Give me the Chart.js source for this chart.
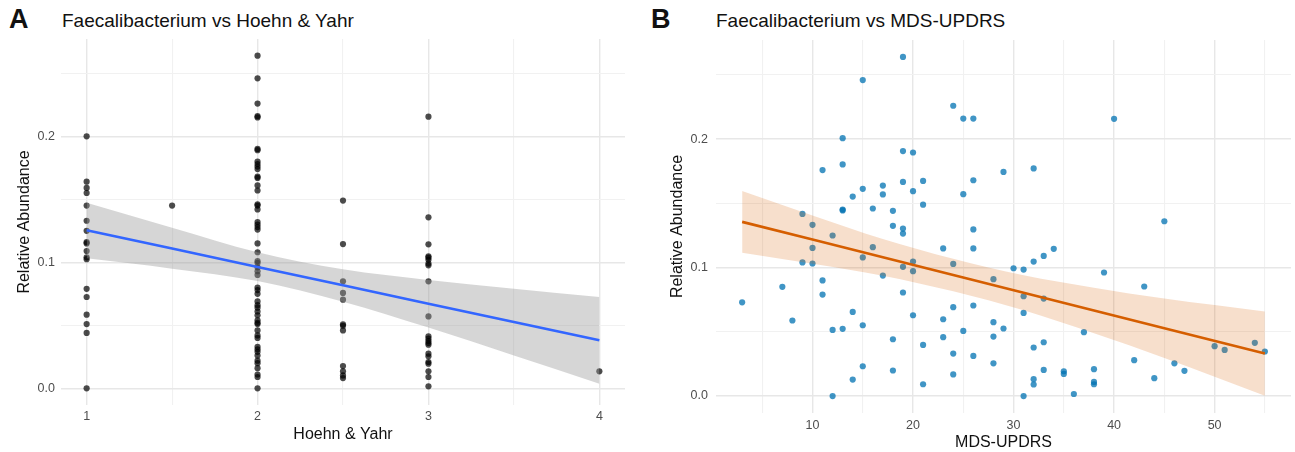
<!DOCTYPE html>
<html>
<head>
<meta charset="utf-8">
<title>Faecalibacterium</title>
<script src="https://cdn.jsdelivr.net/npm/chart.js@4.4.1/dist/chart.umd.min.js"></script>
<style>
body { margin: 0; background: #fff; width: 1295px; height: 452px; overflow: hidden; position: relative; font-family: 'Liberation Sans', Arial, sans-serif; }
canvas { position: absolute; top: 0; }
#chartA { left: 0; }
#chartB { left: 640px; }
.tag { position: absolute; top: 6px; font-weight: bold; font-size: 27px; line-height: 27px; color: #111; }
.title { position: absolute; top: 11px; font-size: 19px; line-height: 19px; color: #111; white-space: nowrap; }
</style>
</head>
<body>
<div class="tag" style="left:9px">A</div>
<div class="title" style="left:62px">Faecalibacterium vs Hoehn &amp; Yahr</div>
<div class="tag" style="left:651px">B</div>
<div class="title" style="left:716px">Faecalibacterium vs MDS-UPDRS</div>
<canvas id="chartA" width="640" height="452"></canvas>
<canvas id="chartB" width="655" height="452"></canvas>
<script>
// Panel A: relative abundance per Hoehn & Yahr stage
var stage1 = [0.200, 0.164, 0.159, 0.155, 0.145, 0.133, 0.125, 0.116, 0.115, 0.109, 0.104, 0.1025, 0.079, 0.0725, 0.0585, 0.051, 0.044, 0.0];
var stage15 = [0.145];
var stage2 = [0.264, 0.246, 0.226, 0.216, 0.215, 0.190, 0.189, 0.180, 0.178, 0.176, 0.174, 0.168, 0.167, 0.161, 0.157,
              0.146, 0.145, 0.142, 0.132, 0.130, 0.128, 0.126, 0.115, 0.108, 0.101, 0.0995, 0.096, 0.093, 0.090,
              0.080, 0.078, 0.075, 0.069, 0.066, 0.064, 0.061, 0.058, 0.054, 0.052, 0.051, 0.046, 0.042, 0.040,
              0.033, 0.031, 0.029, 0.026, 0.022, 0.020, 0.016, 0.011, 0.009, 0.0];
var stage25 = [0.149, 0.1145, 0.085, 0.0757, 0.0704, 0.0508, 0.0497, 0.046, 0.0177, 0.0135, 0.0103, 0.0082];
var stage3 = [0.2156, 0.1357, 0.1143, 0.1048, 0.1037, 0.102, 0.099, 0.0976, 0.0849, 0.0571, 0.0413, 0.0394,
              0.0376, 0.036, 0.0347, 0.0275, 0.0254, 0.0209, 0.0196, 0.0135, 0.009, 0.0016];
var stage4 = [0.0135];
var hyStages = [1, 1.5, 2, 2.5, 3, 4];
var hyGroups = [stage1, stage15, stage2, stage25, stage3, stage4];

// fitted line and confidence band
var hyFitX = [1, 1.5, 2, 2.5, 3, 3.5, 4];
var hyFit = [0.1254, 0.1109, 0.0963, 0.0818, 0.0672, 0.0527, 0.0381];
var hyUpper = [0.1473, 0.1275, 0.1080, 0.0945, 0.0860, 0.0790, 0.0725];
var hyLower = [0.1032, 0.0950, 0.0852, 0.0688, 0.0482, 0.0260, 0.0037];

var hyGridX = [1, 1.5, 2, 2.5, 3, 3.5, 4];
var hyTicksX = [1, 2, 3, 4];

// Panel B: MDS-UPDRS score vs relative abundance
var mdsScore = [3, 7, 8, 9, 9, 10, 10, 10, 11, 11, 11, 12, 12, 12,
                13, 13, 13, 13, 13, 14, 14, 14, 15, 15, 15, 15, 15, 16, 16, 17, 17, 17,
                18, 18, 18, 18, 19, 19, 19, 19, 19, 19, 19, 20, 20, 20, 20, 20,
                21, 21, 21, 21, 23, 23, 23, 24, 24, 24, 24, 24, 25, 25, 25,
                26, 26, 26, 26, 26, 26, 28, 28, 28, 28, 29, 29, 30, 31, 31, 31, 31,
                32, 32, 32, 32, 32, 33, 33, 33, 33, 34, 35, 35, 36, 37, 38, 38, 38,
                39, 40, 42, 43, 44, 45, 46, 47, 50, 51, 54, 55];
var mdsAbund = [0.073, 0.085, 0.0588, 0.1418, 0.104, 0.1333, 0.1153, 0.1032, 0.1759, 0.090, 0.079, 0.125, 0.0515, 0.0,
                0.2008, 0.1803, 0.1452, 0.1445, 0.0523, 0.1553, 0.0655, 0.0128, 0.246, 0.1613, 0.1079, 0.0551, 0.0232, 0.146, 0.1159, 0.1639, 0.157, 0.0938,
                0.1442, 0.1325, 0.0442, 0.0199, 0.264, 0.1907, 0.1667, 0.1304, 0.1265, 0.1006, 0.0806, 0.1896, 0.1595, 0.1047, 0.0972, 0.0629,
                0.1675, 0.149, 0.0398, 0.0092, 0.1149, 0.0598, 0.0458, 0.226, 0.1029, 0.0692, 0.0331, 0.0168, 0.216, 0.1572, 0.0507,
                0.216, 0.168, 0.1297, 0.1149, 0.0705, 0.0312, 0.091, 0.0575, 0.0463, 0.0255, 0.1745, 0.0526, 0.0995, 0.0985, 0.0777, 0.0647, 0.0,
                0.1772, 0.1047, 0.0378, 0.0131, 0.009, 0.1091, 0.0759, 0.0419, 0.0203, 0.1146, 0.0193, 0.0172, 0.0016, 0.0497, 0.0209, 0.011, 0.0092,
                0.0962, 0.2158, 0.0279, 0.0853, 0.0139, 0.1361, 0.0255, 0.0196, 0.0388, 0.0359, 0.0414, 0.0347];

// fitted line and confidence band
var mdsFitX = [3, 10, 17, 24, 31, 38, 45, 55];
var mdsFit = [0.1356, 0.1218, 0.1080, 0.0942, 0.0804, 0.0666, 0.0528, 0.0331];
var mdsUpper = [0.1597, 0.1406, 0.1223, 0.1069, 0.0941, 0.0844, 0.0759, 0.0659];
var mdsLower = [0.1115, 0.1030, 0.0937, 0.0815, 0.0667, 0.0488, 0.0297, 0.0003];

var mdsGridX = [5, 10, 15, 20, 25, 30, 35, 40, 45, 50, 55];
var mdsTicksX = [10, 20, 30, 40, 50];

var abundGrid = [0, 0.05, 0.1, 0.15, 0.2, 0.25];
var abundTicks = [0, 0.1, 0.2];

var FONT = "'Liberation Sans', Arial, sans-serif";

function toPoints(xs, ys) {
    return xs.map(function (x, i) { return {x: x, y: ys[i]}; });
}

function gridFrom(list) {
    return function (scale) {
        scale.ticks = list.map(function (v) { return {value: v}; });
    };
}

function gridStyle(majors) {
    return {
        color: function (c) { return majors.indexOf(c.tick.value) >= 0 ? '#e7e7e7' : '#f1f1f1'; },
        lineWidth: function (c) { return majors.indexOf(c.tick.value) >= 0 ? 1.4 : 1.1; },
        drawTicks: false
    };
}

function makePanel(id, p) {
    var ctx = document.getElementById(id).getContext('2d');
    return new Chart(ctx, {
        type: 'scatter',
        data: {
            datasets: [{
                type: 'line',
                data: toPoints(p.fitX, p.fit),
                borderColor: p.lineColor,
                borderWidth: 2.6,
                pointRadius: 0,
                fill: false,
                order: 0
            }, {
                type: 'line',
                data: toPoints(p.fitX, p.upper),
                borderWidth: 0,
                pointRadius: 0,
                cubicInterpolationMode: 'monotone',
                backgroundColor: p.bandColor,
                fill: '+1',
                order: 1
            }, {
                type: 'line',
                data: toPoints(p.fitX, p.lower),
                borderWidth: 0,
                pointRadius: 0,
                cubicInterpolationMode: 'monotone',
                fill: false,
                order: 2
            }, {
                data: p.points,
                pointRadius: 3.1,
                pointBorderWidth: 0,
                pointBackgroundColor: p.pointColor,
                order: 3
            }]
        },
        options: {
            responsive: false,
            animation: false,
            devicePixelRatio: 1,
            layout: { padding: p.padding },
            plugins: { legend: { display: false }, tooltip: { enabled: false } },
            scales: {
                x: {
                    type: 'linear',
                    min: p.xMin,
                    max: p.xMax,
                    bounds: 'data',
                    afterBuildTicks: gridFrom(p.gridX),
                    afterFit: function (s) { s.height = p.xAxisHeight; },
                    border: { display: false },
                    grid: gridStyle(p.ticksX),
                    ticks: {
                        autoSkip: false,
                        padding: p.xTickPad,
                        color: '#4d4d4d',
                        font: { family: FONT, size: 12.5 },
                        callback: function (v) { return p.ticksX.indexOf(v) >= 0 ? String(v) : ''; }
                    },
                    title: {
                        display: true,
                        text: p.xTitle,
                        color: '#111',
                        font: { family: FONT, size: 16 },
                        padding: { top: 0, bottom: p.xTitlePad }
                    }
                },
                y: {
                    type: 'linear',
                    min: -0.0132,
                    max: 0.2772,
                    bounds: 'data',
                    afterBuildTicks: gridFrom(abundGrid),
                    afterFit: function (s) { s.width = p.yAxisWidth; },
                    border: { display: false },
                    grid: gridStyle(abundTicks),
                    ticks: {
                        autoSkip: false,
                        padding: p.yTickPad,
                        color: '#4d4d4d',
                        font: { family: FONT, size: 12.5 },
                        callback: function (v) { return abundTicks.indexOf(v) >= 0 ? v.toFixed(1) : ''; }
                    },
                    title: {
                        display: true,
                        text: 'Relative Abundance',
                        color: '#111',
                        font: { family: FONT, size: 16 },
                        padding: { top: p.yTitlePad, bottom: 0 }
                    }
                }
            }
        }
    });
}

var hyPoints = [];
hyGroups.forEach(function (g, i) {
    g.forEach(function (v) { hyPoints.push({x: hyStages[i], y: v}); });
});

makePanel('chartA', {
    points: hyPoints,
    fitX: hyFitX, fit: hyFit, upper: hyUpper, lower: hyLower,
    gridX: hyGridX, ticksX: hyTicksX,
    xMin: 0.85, xMax: 4.15,
    xTitle: 'Hoehn & Yahr',
    lineColor: '#3366ff',
    bandColor: 'rgba(153,153,153,0.4)',
    pointColor: 'rgba(0,0,0,0.7)',
    padding: { top: 39, right: 15, bottom: 0, left: 0 },
    yAxisWidth: 61, xAxisHeight: 47,
    xTickPad: 4, yTickPad: 6,
    xTitlePad: 8, yTitlePad: 15
});

makePanel('chartB', {
    points: toPoints(mdsScore, mdsAbund),
    fitX: mdsFitX, fit: mdsFit, upper: mdsUpper, lower: mdsLower,
    gridX: mdsGridX, ticksX: mdsTicksX,
    xMin: 0.4, xMax: 57.6,
    xTitle: 'MDS-UPDRS',
    lineColor: '#d55e00',
    bandColor: 'rgba(213,94,0,0.2)',
    pointColor: 'rgba(0,114,178,0.75)',
    padding: { top: 40, right: 3, bottom: 0, left: 0 },
    yAxisWidth: 76, xAxisHeight: 39,
    xTickPad: 5, yTickPad: 8,
    xTitlePad: 0, yTitlePad: 28
});
</script>
</body>
</html>
